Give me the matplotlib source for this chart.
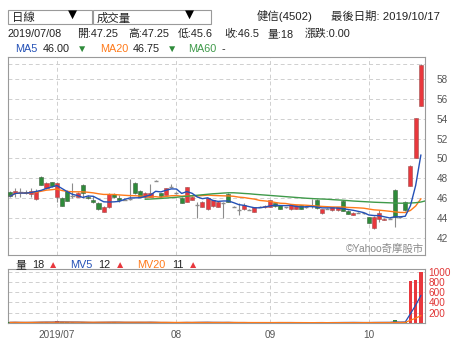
import matplotlib
matplotlib.use("Agg")
import matplotlib.pyplot as plt
from matplotlib.patches import Rectangle
import numpy as np
import pandas as pd

# ---------------- data ----------------
opens  = [46.60, 46.50, 46.60, 46.60, 46.40, 45.90, 48.10, 47.00, 47.60, 46.10,
          46.00, 46.77, 46.25, 46.16, 47.34, 46.10, 45.80, 45.56, 44.65, 45.10,
          46.43, 46.00, 45.85, 45.90, 47.50, 46.70, 46.10, 46.16, 47.77, 46.50,
          46.33, 47.17, 46.50, 46.00, 45.66, 45.83, 45.30, 45.16, 44.90, 45.20,
          45.16, 45.50, 46.43, 45.15, 44.80, 44.90, 44.85, 44.65, 45.15, 45.10,
          45.16, 45.50, 45.30, 45.10, 44.90, 44.95, 45.30, 45.10, 45.20, 45.83,
          44.50, 44.95, 44.80, 44.80, 45.76, 44.75, 44.32, 44.55, 44.50, 44.08,
          42.98, 43.88, 43.85, 43.95, 46.83, 44.10, 45.66, 47.20, 50.00, 55.30]
highs  = [46.70, 47.00, 47.00, 46.80, 47.00, 46.90, 48.20, 47.60, 47.65, 47.60,
          46.10, 46.80, 47.50, 46.60, 47.40, 46.30, 46.20, 45.60, 45.20, 46.50,
          46.50, 46.30, 46.00, 47.90, 47.60, 46.80, 46.60, 47.40, 47.80, 46.55,
          47.05, 47.40, 46.60, 46.10, 47.10, 46.20, 45.66, 45.70, 46.05, 45.85,
          45.70, 45.66, 46.50, 45.20, 45.50, 45.50, 44.90, 45.15, 45.20, 45.30,
          45.85, 45.55, 45.35, 45.15, 45.35, 45.35, 45.35, 45.15, 45.90, 45.90,
          44.95, 45.00, 45.15, 45.15, 45.80, 44.80, 44.60, 44.60, 44.55, 44.10,
          44.20, 44.80, 44.00, 44.00, 46.90, 44.15, 45.70, 49.30, 54.10, 59.50]
lows   = [46.10, 46.15, 46.10, 46.40, 46.10, 45.80, 47.30, 46.90, 47.10, 45.60,
          45.20, 45.70, 46.00, 46.10, 46.00, 45.90, 45.50, 44.85, 44.60, 45.00,
          46.00, 45.60, 45.80, 45.80, 46.40, 46.10, 46.00, 46.10, 47.74, 46.15,
          46.30, 47.10, 46.40, 45.50, 45.60, 45.80, 44.00, 45.10, 44.85, 45.10,
          45.10, 44.00, 45.60, 45.10, 44.30, 44.85, 44.80, 44.60, 45.10, 45.00,
          45.10, 45.15, 44.90, 45.05, 44.85, 44.90, 44.90, 45.05, 45.05, 44.95,
          44.45, 44.90, 44.75, 44.75, 44.70, 44.40, 44.30, 44.50, 44.45, 43.50,
          42.95, 43.60, 43.80, 43.90, 43.15, 44.05, 44.75, 47.20, 50.00, 55.30]
closes = [46.20, 46.77, 46.60, 46.50, 46.77, 46.77, 47.34, 47.57, 47.20, 47.50,
          45.26, 45.76, 46.25, 46.56, 46.56, 46.00, 45.60, 44.90, 45.16, 46.43,
          46.10, 45.85, 45.85, 45.90, 46.50, 46.16, 46.50, 46.56, 47.77, 46.20,
          47.00, 47.17, 46.50, 45.56, 47.10, 46.16, 45.30, 45.66, 46.00, 45.80,
          45.66, 45.50, 45.66, 45.15, 44.80, 45.30, 44.85, 45.10, 45.15, 45.20,
          45.83, 45.20, 44.95, 45.10, 45.30, 45.30, 44.95, 45.10, 45.20, 45.00,
          44.90, 44.95, 45.10, 45.10, 44.76, 44.42, 44.55, 44.55, 44.50, 43.55,
          44.15, 44.50, 43.95, 43.95, 44.15, 44.10, 44.80, 49.28, 54.10, 59.40]
volumes = [12, 15, 8, 10, 14, 20, 25, 16, 9, 30, 22, 18, 10, 8, 18, 6, 9, 20, 14, 25,
           11, 8, 5, 12, 22, 15, 9, 14, 1, 8, 16, 4, 3, 12, 20, 8, 15, 10, 18, 9,
           7, 10, 15, 2, 6, 9, 2, 8, 3, 5, 12, 9, 10, 3, 8, 7, 9, 2, 6, 14,
           10, 3, 8, 9, 18, 12, 8, 3, 4, 15, 22, 12, 6, 5, 60, 3, 25, 810, 830, 1000]
ma60_start = 26
ma60_vals = [45.90, 45.92, 45.95, 45.98, 46.02, 46.06, 46.10,
             46.15, 46.20, 46.25, 46.30, 46.35, 46.40, 46.45, 46.48,
             46.52, 46.55, 46.55, 46.52, 46.48, 46.45, 46.40, 46.36, 46.32, 46.28,
             46.24, 46.20, 46.16, 46.12, 46.08, 46.04, 46.00, 45.97, 45.94, 45.92,
             45.90, 45.86, 45.83, 45.80, 45.76, 45.72, 45.69, 45.66, 45.63, 45.60,
             45.58, 45.56, 45.54, 45.52, 45.50, 45.50, 45.52, 45.55, 45.62, 45.75, 45.90]
month_ticks = [9, 32, 50, 69]
month_labels = ["2019/07", "08", "09", "10"]
price_ticks = [42, 44, 46, 48, 50, 52, 54, 56, 58]
vol_ticks = [200, 400, 600, 800, 1000]

# ---------------- figure ----------------
W, H = 459, 358
fig = plt.figure(figsize=(W / 100, H / 100), dpi=100)
FONT = ['Liberation Sans', 'Noto Sans CJK TC', 'DejaVu Sans']
plt.rcParams['font.family'] = FONT

def fx(x): return x / W
def fy(y): return 1 - y / H

RED = '#e8383d'
GREEN = '#2e8b3a'
GREY = '#8c8c8c'
BLUE = '#2451b7'
ORANGE = '#ff7a1a'
MGREEN = '#3f9a4a'
GRIDC = '#cfcfcf'

n = len(closes)
x = np.arange(n)
o = np.array(opens); c = np.array(closes); h = np.array(highs); l = np.array(lows)

ax = fig.add_axes([fx(8), fy(255), fx(424.5) - fx(8), fy(57) - fy(255)])
axv = fig.add_axes([fx(8), fy(323), fx(424.5) - fx(8), fy(269) - fy(323)])

xl = (-0.4, n - 0.3)

# candles
ax.vlines(x, l, h, color=GREY, lw=0.8, zorder=2)
up = c > o
dn = c < o
dj = ~(up | dn)
w = 0.78
ax.bar(x[up], (c - o)[up], bottom=o[up], width=w, color=RED, edgecolor='#a05050', lw=0.4, zorder=3)
ax.bar(x[dn], (o - c)[dn], bottom=c[dn], width=w, color=GREEN, edgecolor='#406040', lw=0.4, zorder=3)
ax.hlines(c[dj], x[dj] - w / 2, x[dj] + w / 2, color=GREY, lw=1.0, zorder=3)

cs = pd.Series(closes)
ma5 = cs.rolling(5, min_periods=1).mean()
ma20 = cs.rolling(20, min_periods=1).mean()
ax.plot(x, ma20, color=ORANGE, lw=1.0, zorder=4)
ax.plot(np.arange(ma60_start, ma60_start + len(ma60_vals)), ma60_vals, color=MGREEN, lw=1.0, zorder=4)
ax.plot(x, ma5, color=BLUE, lw=1.0, zorder=5)

ax.set_xlim(*xl)
ax.set_ylim(40.29, 60.21)
ax.yaxis.tick_right()
ax.set_yticks(price_ticks)
ax.set_yticklabels([str(t) for t in price_ticks])
ax.tick_params(axis='y', length=0, labelsize=7.2, labelcolor='#555555', pad=9)
ax.set_xticks(month_ticks)
ax.tick_params(axis='x', length=0, labelbottom=False)
for t in price_ticks:
    ax.axhline(t, color=GRIDC, lw=0.7, ls=(0, (4, 3)), zorder=0)
ax.axhline(max(highs), color=GRIDC, lw=0.7, ls=(0, (4, 3)), zorder=0)
for t in month_ticks:
    ax.axvline(t, color=GRIDC, lw=0.7, ls=(0, (4, 3)), zorder=0)
for s in ax.spines.values():
    s.set_color('#9a9a9a'); s.set_linewidth(0.8)
ax.text(0.998, 0.008, "©Yahoo奇摩股市", transform=ax.transAxes, ha='right', va='bottom',
        fontsize=7.5, color='#8a8a8a', family=FONT)

# volume
vcol = [RED if cc > oo else (GREEN if cc < oo else GREY) for oo, cc in zip(opens, closes)]
axv.bar(x, volumes, width=0.7, color=vcol, zorder=3)
vs = pd.Series(volumes)
axv.plot(x, vs.rolling(5, min_periods=1).mean(), color=BLUE, lw=0.9, zorder=4)
axv.plot(x, vs.rolling(20, min_periods=1).mean(), color=ORANGE, lw=0.9, zorder=5)
axv.set_xlim(*xl)
axv.set_ylim(0, 1050)
axv.yaxis.tick_right()
axv.set_yticks(vol_ticks)
axv.set_yticklabels([str(t) for t in vol_ticks])
axv.tick_params(axis='y', length=0, labelsize=7.2, labelcolor='#e03535', pad=3)
axv.set_xticks(month_ticks)
axv.set_xticklabels(month_labels)
axv.tick_params(axis='x', length=0, labelsize=7.2, labelcolor='#555555', pad=5)
for t in vol_ticks:
    axv.axhline(t, color=GRIDC, lw=0.7, ls=(0, (4, 3)), zorder=0)
for t in month_ticks:
    axv.axvline(t, color=GRIDC, lw=0.7, ls=(0, (4, 3)), zorder=0)
for s in axv.spines.values():
    s.set_color('#9a9a9a'); s.set_linewidth(0.8)

# ---------------- header texts ----------------
FS = 7.8
def t(xp, yp, s, color='#222222', fs=FS, ha='left'):
    fig.text(fx(xp), fy(yp), s, color=color, fontsize=fs, ha=ha, va='center', family=FONT)

# selector boxes
fig.patches.append(Rectangle((fx(8), fy(24)), fx(92) - fx(8), fy(10) - fy(24), transform=fig.transFigure,
                             fill=False, edgecolor='#9a9a9a', lw=0.8))
fig.patches.append(Rectangle((fx(93), fy(24)), fx(211) - fx(93), fy(10) - fy(24), transform=fig.transFigure,
                             fill=False, edgecolor='#9a9a9a', lw=0.8))
t(12, 18, "日線", fs=8.2)
t(72, 15, "▼", color='#000000', fs=11, ha='center')
t(97, 18, "成交量", fs=8.2)
t(189, 15, "▼", color='#000000', fs=11, ha='center')
t(257, 16, "健信(4502)", fs=8.2)
t(440, 16, "最後日期: 2019/10/17", fs=8.2, ha='right')

row2 = [(8, "2019/07/08"), (77, "開:47.25"), (128, "高:47.25"), (178, "低:45.6"),
        (224, "收:46.5"), (268, "量:18"), (305, "漲跌:0.00")]
for xp, s in row2:
    t(xp, 34, s)

t(15, 49, "MA5", color=BLUE)
t(43, 49, "46.00")
t(82, 49, "▼", color=GREEN, fs=7.5, ha='center')
t(100, 49, "MA20", color=ORANGE)
t(133, 49, "46.75")
t(172, 49, "▼", color=GREEN, fs=7.5, ha='center')
t(188, 49, "MA60", color=MGREEN)
t(222, 49, "-")

t(16, 265, "量")
t(32, 265, "18")
t(53, 265, "▲", color=RED, fs=7.5, ha='center')
t(70, 265, "MV5", color=BLUE)
t(98, 265, "12")
t(120, 265, "▲", color=RED, fs=7.5, ha='center')
t(137, 265, "MV20", color=ORANGE)
t(172, 265, "11")
t(193, 265, "▲", color=RED, fs=7.5, ha='center')

fig.savefig("out.png", dpi=100)
